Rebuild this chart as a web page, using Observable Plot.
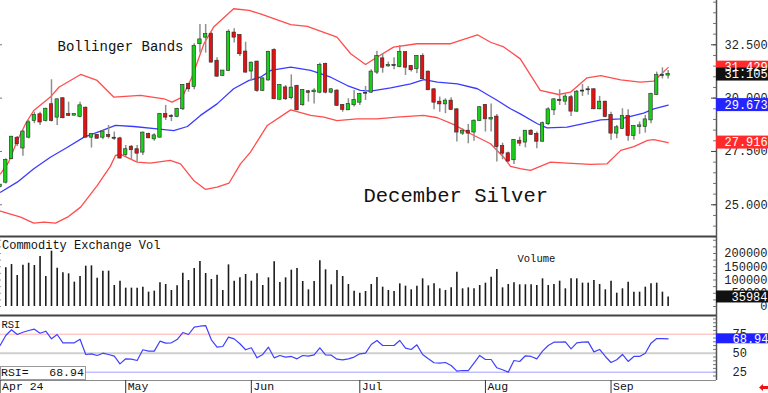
<!DOCTYPE html>
<html>
<head>
<meta charset="utf-8">
<script src="https://cdn.jsdelivr.net/npm/d3@7"></script>
<script src="https://cdn.jsdelivr.net/npm/@observablehq/plot@0.6"></script>
<style>
  html, body { margin: 0; padding: 0; background: #ffffff; }
  #chart { position: relative; width: 768px; height: 393px; overflow: hidden; background: #fff; }
  #chart svg { display: block; overflow: visible; }
  #rsibox { position: absolute; left: 0; top: 366px; width: 86px; height: 14px; box-sizing: border-box;
            border: 1px solid #9a9a9a; background: #fff; font: 11.5px "Liberation Mono", monospace;
            color: #111; line-height: 12px; white-space: pre; padding-left: 0px; }
  #arrow { position: absolute; left: 759px; top: 384px; }
</style>
</head>
<body>
<div id="chart"></div>
<script>
// ---- data (index 0 = first trading day of April; -1 partly cut off) ----
const idxStart = -1;
const open  = [25.85,26.06,27.16,28.12,27.66,28.17,28.95,29.22,28.95,29.69,29.11,29.97,29.23,29.2,29.14,29.53,28.17,28.25,28.17,28.25,28.12,28.09,27.36,27.7,27.58,27.47,28.3,28.09,28.17,29.23,29.14,29.14,29.5,30.64,30.55,32.55,32.86,32.98,31.73,31.06,31.3,33.05,32.94,32.16,31.27,31.69,30.36,30.85,32.23,29.95,30.48,30.02,30.55,29.69,30.3,30.3,30.28,31.58,30.28,30.33,29.66,29.45,29.69,29.81,30.23,30.28,31.22,31.84,31.51,31.53,31.48,32.13,31.48,31.38,31.95,31.22,30.39,29.81,29.73,29.86,29.45,28.36,28.45,28.41,28.95,29.66,29.02,29.11,27.73,27.39,27.11,27.98,27.94,28.45,28.3,27.98,28.8,29.45,29.9,29.86,30.02,29.39,30.33,30.39,30.39,29.5,29.81,29.19,28.36,28.58,29.14,28.25,28.67,28.67,28.98,30.17,31.06,31.08];
const high  = [25.95,27.16,28.2,28.2,28.48,28.95,29.34,29.34,29.53,30.86,29.97,30.02,29.81,29.27,29.81,29.58,28.33,28.3,28.48,28.72,28.41,28.17,27.78,27.78,27.78,28.41,28.36,28.33,29.27,29.66,29.23,29.53,30.64,30.7,32.55,33.45,33.45,33.09,31.89,31.3,33.2,33.25,32.98,32.62,31.69,31.73,30.95,32.2,32.31,30.64,30.59,31.09,30.6,30.4,30.36,30.44,31.64,31.64,30.44,30.39,29.7,29.97,30.36,30.23,30.55,31.33,32.2,32.08,31.69,31.89,32.47,32.16,31.53,32.0,32.08,31.27,30.44,30.05,29.97,30.02,29.5,28.56,28.77,28.98,29.61,29.7,29.73,29.23,27.89,27.47,28.05,28.17,28.48,28.52,28.41,28.88,29.55,29.97,30.39,30.2,30.13,30.36,30.64,30.55,30.44,30.08,29.86,29.34,28.72,29.5,29.45,28.72,28.88,29.19,30.23,31.22,31.42,31.3];
const low   = [25.8,25.98,27.11,27.73,27.28,28.09,28.8,28.72,28.88,28.88,28.72,29.03,29.14,29.17,29.08,28.14,27.66,28.08,28.05,28.09,28.02,27.16,27.23,27.08,27.0,27.31,28.09,27.98,28.14,28.95,28.9,29.08,29.42,30.28,30.39,32.11,32.11,31.64,30.98,31.03,31.25,32.58,31.95,31.17,30.8,30.28,30.31,30.8,29.92,29.9,29.89,29.92,29.42,29.62,29.81,29.73,30.2,30.2,30.2,29.61,29.34,29.42,29.58,29.66,29.89,30.23,31.11,31.17,31.45,31.33,31.42,31.06,31.22,31.14,30.83,30.36,29.45,29.34,29.27,29.42,27.94,28.25,27.86,27.98,28.91,28.41,28.41,27.0,27.11,27.0,26.89,27.73,27.67,28.25,27.63,27.94,28.72,29.19,29.66,29.66,29.14,29.34,30.08,30.13,29.45,29.45,29.08,28.02,28.09,28.52,27.98,28.02,28.3,28.36,28.8,30.13,30.9,30.9];
const close = [25.92,27.08,28.17,27.86,28.41,28.84,29.19,28.88,29.48,28.95,29.92,29.08,29.19,29.23,29.64,28.17,28.3,28.12,28.41,28.2,28.12,27.19,27.58,27.58,27.42,28.36,28.14,28.23,29.23,29.11,29.14,29.47,30.6,30.44,32.42,32.73,32.98,31.69,31.03,31.27,33.09,32.86,32.08,31.22,31.64,30.36,30.9,32.15,29.97,30.59,29.97,30.47,29.45,30.36,30.27,30.33,31.53,30.28,30.39,29.66,29.47,29.7,29.89,30.17,30.23,31.22,31.95,31.45,31.54,31.53,32.13,31.45,31.33,31.95,30.91,30.39,29.81,29.73,29.86,29.47,28.41,28.45,28.36,28.92,29.55,29.03,29.04,27.73,27.42,27.05,28.02,27.89,28.45,28.3,27.98,28.8,29.45,29.92,29.88,30.05,29.39,30.28,30.33,30.39,29.5,29.81,29.14,28.36,28.61,29.14,28.25,28.67,28.7,28.98,30.17,31.06,31.06,31.105];
const volume = [null,145900,158300,117000,155900,163300,154600,188700,113200,208800,144600,127000,123300,91900,113200,152100,153400,107000,133400,133400,79300,95600,69200,69200,69200,73000,54100,57900,89400,83100,60400,78000,125800,98100,143400,169800,124500,101900,118200,60400,157100,95600,108200,120800,95600,123300,79300,108200,168500,90600,108200,137100,143400,94300,62900,94300,172300,138400,81800,135800,113200,83100,57900,50300,56600,83100,109500,73000,60400,56600,85500,76700,62900,76700,104400,78000,85500,66700,60400,70400,129600,66700,70400,66700,79300,88100,110700,139600,70400,83100,89400,81800,81800,81800,79300,104400,79300,83100,95600,66700,104400,104400,88100,88100,98100,83100,62900,95600,50300,66700,91900,54100,54100,73000,85500,88100,54100,35984];
const rsi = [60.1,73.3,80.8,74.6,77.6,79.9,81.6,76.3,78.9,68.9,74.6,63.7,63.7,63.7,68.4,48.3,49.2,47,50,48.3,46.1,36,42.6,42.1,40.4,54.5,52.7,52.7,65.8,63.2,63.7,68,77.2,74.6,84.2,85.5,86.4,67.6,57.9,58.8,71.1,68.9,62.4,54.5,57.1,43.9,48.3,57.9,43.9,47,44.9,45.7,42.6,47,46.1,47.9,57.1,47.9,47.4,42.1,41.3,42.6,44.9,49.2,50,61.4,66.7,60.1,60.1,60.1,66.7,56.6,54.9,61,48.3,42.6,37.4,36.9,37.8,33.8,26.4,27.2,27.2,36.9,47,41.7,41.7,30.8,28.2,25.1,40.4,39.1,46.6,45.7,42.6,52.7,60.1,64.5,64.5,64.9,55.7,63.6,64.5,64.9,51.8,54.9,45.7,37.8,41.3,48.3,39.1,45.7,45.7,50,63.2,69.3,69.3,68.94];

// Bollinger bands, read at positions along the index axis
const upperIdx = [-0.93,0.5,2,3.6,4.9,7.8,9.3,13.1,16,18.9,23.6,27.7,29.1,30.9,32.6,34.7,36.4,39.9,42.6,44.6,49.9,52.8,58,60.4,63,65,67.9,72,77.9,82.6,84.9,87.2,90.1,93.6,96.8,98.9,101.8,104.2,107.7,111.1,113.5,116];
const upper    = [26.45,27.0,28.0,28.87,29.42,30.05,30.51,31.11,30.83,30.05,30.13,29.97,29.81,30.05,30.98,32.55,33.33,34.19,34.11,33.95,33.45,33.36,32.86,32.08,31.58,31.92,32.39,32.55,32.55,32.97,32.62,32.4,31.84,30.36,30.17,30.28,30.95,31.06,30.86,30.75,30.8,31.429];
const middleIdx = [-0.93,2,4.9,7.8,10.8,13.7,16.6,19.2,22.4,26.5,29.4,31.8,34.1,37,39.9,42.6,44.6,46.4,49.9,53.4,56.9,59.8,62.1,63.9,67.4,70.9,73.2,75.6,79.1,82.6,86.1,88.4,90.1,93.1,94.8,98.3,101.2,104.2,107.7,111.7,113.5,116];
const middle    = [25.59,26.06,26.69,27.23,27.7,28.17,28.45,28.72,28.67,28.56,28.48,28.67,29.19,29.73,30.44,30.83,30.98,31.3,31.45,31.3,30.98,30.59,30.36,30.33,30.48,30.67,30.87,30.75,30.67,30.44,29.89,29.5,29.26,28.8,28.61,28.64,28.8,28.98,29.03,29.3,29.5,29.673];
const lowerIdx = [-0.93,2.6,4.9,6.7,8.7,10.8,13.1,16,18.3,19.2,20.1,23,25.3,28.8,30.6,32.9,35,37,39.1,41.1,42.85,45.8,49.9,53.4,55.7,58,61.5,65,68.5,73.2,75.6,78.5,81.4,84.9,87.2,88.4,90.1,91.9,95.4,98.3,102.4,105.3,107.7,110,112.4,113.5,116];
const lower    = [24.7,24.42,24.14,24.19,24.14,24.42,24.89,25.9,26.8,27.31,27.36,27.0,26.95,27.08,26.92,26.14,25.72,25.83,26.02,26.92,27.47,28.72,29.45,29.19,29.11,28.95,29.03,29.03,29.11,29.19,29.08,28.76,28.33,27.86,27.23,26.8,26.69,26.61,27.0,26.95,26.89,26.92,27.55,27.73,28.02,28.05,27.916];

const priceTicks = [25, 27.5, 30, 32.5];
const volTicks = [0, 50000, 100000, 150000, 200000];
const rsiTicks = [25, 50, 75];
const monthIdx = [-1, 21, 43, 62, 84, 106];
const monthLabels = ["Apr 24", "May", "Jun", "Jul", "Aug", "Sep"];

// ---- scales / layout ----
const xDomain = [-0.93, 124.47];
const priceDomain = [23.513, 34.577];
const volDomain = [-33962, 264151];
const rsiDomain = [14.08, 99.6];
const xEdge = xDomain[1];

const FONT = "'Liberation Mono', 'DejaVu Sans Mono', monospace";
const style = {fontFamily: FONT, fontSize: "12px", background: "transparent", overflow: "visible", color: "#111"};
const base = {width: 768, marginLeft: 0, marginRight: 52, marginTop: 0, x: {domain: xDomain, axis: null}, color: {type: "identity"}, style};

const idx = open.map((_, k) => k + idxStart);
const candles = idx.map((i, k) => ({i, o: open[k], h: high[k], l: low[k], c: close[k]}));
const bodyColor = d => d.c > d.o ? "#18d018" : d.c < d.o ? "#e01212" : "#333333";
const toPts = (xs, ys) => xs.map((i, k) => ({i, v: ys[k]}));
const vols = idx.map((i, k) => ({i, v: volume[k]})).filter(d => d.v != null);
const rsiPts = idx.map((i, k) => ({i, v: rsi[k]}));

const priceMinor = d3.range(47, 70).map(k => k / 2);
const volMinor = d3.range(0, 11).map(k => k * 25000);
const rsiMinor = d3.range(4, 20).map(k => k * 5);

const priceBoxes = [
  {v: upper[upper.length - 1], bg: "#ff2b2b", fg: "#ffffff"},
  {v: close[close.length - 1], bg: "#111111", fg: "#ffffff"},
  {v: middle[middle.length - 1], bg: "#2424ff", fg: "#ffffff"},
  {v: lower[lower.length - 1], bg: "#ff2b2b", fg: "#ffffff"}
];
const volBox = [{v: volume[volume.length - 1], bg: "#111111", fg: "#ffffff"}];
const rsiBox = [{v: rsi[rsi.length - 1], bg: "#2020ff", fg: "#ffffff"}];
const at = () => xEdge;
const note = (s, dx, dy, size) => Plot.text([s], {text: d => d, frameAnchor: "top-left", lineAnchor: "middle", dx, dy, textAnchor: "start", fontSize: size, fill: "#111"});

// ---- price panel ----
const pricePlot = Plot.plot({
  ...base, height: 236, marginBottom: 0,
  y: {domain: priceDomain},
  marks: [
    Plot.ruleY(priceMinor, {y: d => d, insetLeft: 713, stroke: "#777"}),
    Plot.ruleY(priceTicks, {y: d => d, insetLeft: 711, stroke: "#444"}),
    Plot.ruleY(priceTicks, {y: d => d, insetRight: 714, stroke: "#777"}),
    Plot.axisY({ticks: priceTicks, anchor: "right", tickSize: 0, tickPadding: 8, tickFormat: d3.format(".3f"), label: null, fontSize: 12, fill: "#222"}),
    Plot.line(toPts(upperIdx, upper), {x: "i", y: "v", stroke: "#ff4d4d", strokeWidth: 1.3}),
    Plot.line(toPts(lowerIdx, lower), {x: "i", y: "v", stroke: "#ff4d4d", strokeWidth: 1.3}),
    Plot.line(toPts(middleIdx, middle), {x: "i", y: "v", stroke: "#3b3bff", strokeWidth: 1.3}),
    Plot.ruleX(candles, {x: "i", y1: "l", y2: "h", stroke: "#8f8f8f", strokeWidth: 1.5}),
    Plot.rect(candles, {x1: d => d.i - 0.3, x2: d => d.i + 0.3, y1: "o", y2: "c", fill: bodyColor, stroke: "#2a2a2a", strokeWidth: 0.6, insetTop: -0.5, insetBottom: -0.5}),
    Plot.ruleX([xEdge], {stroke: "#555", strokeWidth: 1.5}),
    note("Bollinger Bands", 57, 46.5, 14),
    note("December Silver", 363, 194.5, 20.5),
    Plot.rect(priceBoxes, {x1: at, x2: at, y1: "v", y2: "v", insetRight: -52, insetTop: -6.5, insetBottom: -6.5, fill: "bg"}),
    Plot.text(priceBoxes, {x: at, y: "v", text: d => d3.format(".3f")(d.v), dx: 8, textAnchor: "start", fill: "fg", fontSize: 12})
  ]
});

// ---- volume panel ----
const volPlot = Plot.plot({
  ...base, height: 79, marginBottom: 0,
  y: {domain: volDomain},
  marks: [
    Plot.ruleY(volMinor, {y: d => d, insetLeft: 713, stroke: "#777"}),
    Plot.ruleY(volMinor, {y: d => d, insetRight: 715, stroke: "#999"}),
    Plot.axisY({ticks: volTicks, anchor: "right", tickSize: 0, tickPadding: 51, textAnchor: "end", tickFormat: d3.format("d"), label: null, fontSize: 12, fill: "#222"}),
    Plot.ruleX(vols, {x: "i", y1: 0, y2: "v", stroke: "#1c1c1c", strokeWidth: 1.6}),
    Plot.ruleY([volDomain[1]], {stroke: "#444", strokeWidth: 2}),
    Plot.ruleX([xEdge], {stroke: "#555", strokeWidth: 1.5}),
    note("Commodity Exchange Vol", 1.5, 8.5, 12),
    note("Volume", 517, 22.5, 10.5),
    Plot.rect(volBox, {x1: at, x2: at, y1: "v", y2: "v", insetRight: -52, insetTop: -6, insetBottom: -6, fill: "bg"}),
    Plot.text(volBox, {x: at, y: "v", text: d => String(d.v), dx: 51, textAnchor: "end", fill: "fg", fontSize: 12})
  ]
});

// ---- RSI panel ----
const rsiPlot = Plot.plot({
  ...base, height: 78, marginBottom: 13,
  y: {domain: rsiDomain},
  marks: [
    Plot.ruleY(rsiMinor, {y: d => d, insetLeft: 713, stroke: "#777"}),
    Plot.ruleY([75], {stroke: "#ffb0b0", strokeWidth: 1}),
    Plot.ruleY([50], {stroke: "#cfcfcf", strokeWidth: 2}),
    Plot.ruleY([25], {stroke: "#a0a0ff", strokeWidth: 1}),
    Plot.ruleY([rsiDomain[0]], {stroke: "#8a8a8a", strokeWidth: 1}),
    Plot.axisY({ticks: rsiTicks, anchor: "right", tickSize: 0, tickPadding: 16, textAnchor: "start", tickFormat: d3.format("d"), label: null, fontSize: 12, fill: "#222"}),
    Plot.line(rsiPts, {x: "i", y: "v", stroke: "#4040ff", strokeWidth: 1.2}),
    Plot.ruleY([rsiDomain[1]], {stroke: "#444", strokeWidth: 2}),
    Plot.ruleX([xEdge], {stroke: "#555", strokeWidth: 1.5}),
    Plot.axisX({ticks: monthIdx, anchor: "bottom", tickSize: 13, tickFormat: () => "", label: null, stroke: "#333"}),
    Plot.text(monthIdx.map((i, k) => ({i, label: monthLabels[k]})), {x: "i", text: "label", frameAnchor: "bottom", lineAnchor: "middle", dy: 5.8, dx: 2, textAnchor: "start", fontSize: 11.5, fill: "#111"}),
    note("RSI", 1, 9, 10.5),
    Plot.rect(rsiBox, {x1: at, x2: at, y1: "v", y2: "v", insetRight: -52, insetTop: -5, insetBottom: -5, fill: "bg"}),
    Plot.text(rsiBox, {x: at, y: "v", text: d => d.v.toFixed(2), dx: 16, textAnchor: "start", fill: "fg", fontSize: 12})
  ]
});

const chart = document.getElementById("chart");
chart.append(pricePlot, volPlot, rsiPlot);

const box = document.createElement("div");
box.id = "rsibox";
box.textContent = "RSI=   " + rsi[rsi.length - 1].toFixed(2);
chart.append(box);

const ns = "http://www.w3.org/2000/svg";
const arrow = document.createElementNS(ns, "svg");
arrow.setAttribute("id", "arrow");
arrow.setAttribute("width", "9");
arrow.setAttribute("height", "7");
const path = document.createElementNS(ns, "path");
path.setAttribute("d", "M0 3.5 L4 0 L4 2 L9 2 L9 5 L4 5 L4 7 Z");
path.setAttribute("fill", "#ee1111");
arrow.append(path);
chart.append(arrow);
</script>
</body>
</html>
